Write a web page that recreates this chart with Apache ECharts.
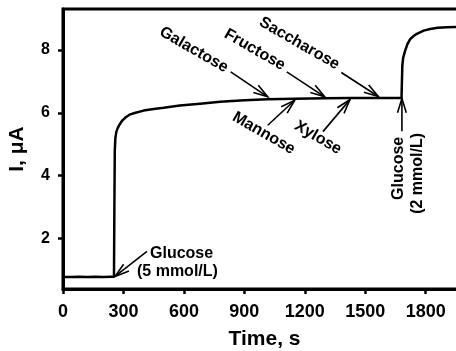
<!DOCTYPE html>
<html><head><meta charset="utf-8">
<script src="https://cdn.jsdelivr.net/npm/echarts@6/dist/echarts.min.js"></script>
<style>html,body{margin:0;padding:0;background:#fff}#c{width:456px;height:351px}</style>
</head><body><div id="c"></div>
<script>
// ---- data ----
const timeS = [0, 40, 80, 120, 160, 200, 240, 253, 255, 257, 260, 265, 272, 280, 295, 310, 330, 360, 400, 450, 500, 580, 680, 780, 900, 1016, 1150, 1300, 1424, 1565, 1680, 1682, 1684, 1688, 1698, 1710, 1723, 1740, 1756, 1790, 1822, 1860, 1905, 1952, 2000];
const currentUA = [0.76, 0.76, 0.77, 0.76, 0.77, 0.76, 0.77, 0.77, 3.0, 4.8, 5.2, 5.4, 5.52, 5.62, 5.76, 5.85, 5.94, 6.0, 6.07, 6.12, 6.16, 6.23, 6.29, 6.35, 6.40, 6.43, 6.45, 6.46, 6.47, 6.47, 6.47, 7.0, 7.5, 7.75, 7.98, 8.2, 8.35, 8.45, 8.52, 8.62, 8.67, 8.71, 8.73, 8.74, 8.75];
const xTickValues = [0, 300, 600, 900, 1200, 1500, 1800];
const yTickValues = [2, 4, 6, 8];
const annNames = ['Glucose\n(5 mmol/L)', 'Galactose', 'Fructose', 'Saccharose', 'Mannose', 'Xylose', 'Glucose\n(2 mmol/L)'];
const annTime = [258, 1016, 1299, 1565, 1150, 1424, 1682];
const annCurrent = [0.78, 6.51, 6.51, 6.52, 6.40, 6.42, 6.46];

// ---- annotation layout (pixel offsets from arrow tip) ----
const R = -Math.PI / 6, V = Math.PI / 2;
const annLayout = [
  {start: [32, -25], texts: [{dx: 35, dy: -23, align: 'left', rot: 0}, {dx: 22, dy: -5, align: 'left', rot: 0}]},
  {start: [-37, -25], texts: [{dx: -74, dy: -47, align: 'center', rot: R}]},
  {start: [-38, -25], texts: [{dx: -70, dy: -47, align: 'center', rot: R}]},
  {start: [-37, -24], texts: [{dx: -79, dy: -53, align: 'center', rot: R}]},
  {start: [-27, 25], texts: [{dx: -31, dy: 33, align: 'center', rot: R}]},
  {start: [-27, 32], texts: [{dx: -32, dy: 38, align: 'center', rot: R}]},
  {start: [0, 33], texts: [{dx: -3, dy: 70, align: 'center', rot: V}, {dx: 16, dy: 75, align: 'center', rot: V}]}
];

const FONT = '"Liberation Sans", Arial, sans-serif';
const chart = echarts.init(document.getElementById('c'), null, {renderer: 'canvas'});

chart.setOption({
  animation: false,
  backgroundColor: '#fff',
  grid: {left: 63, right: -10, top: 9, bottom: 62, show: true, borderColor: '#000', borderWidth: 3, containLabel: false, outerBoundsMode: 'none'},
  xAxis: {
    type: 'value', min: 0, max: 2000, interval: 300,
    name: 'Time, s', nameLocation: 'middle', nameGap: 40,
    nameTextStyle: {fontSize: 21, fontWeight: 'bold', color: '#000', fontFamily: FONT},
    axisLine: {onZero: false, lineStyle: {color: '#000', width: 3}},
    axisTick: {length: 5, lineStyle: {color: '#000', width: 2.5}, customValues: xTickValues},
    axisLabel: {fontSize: 18, fontWeight: 'bold', color: '#000', fontFamily: FONT, margin: 14, customValues: xTickValues, formatter: v => String(v)},
    splitLine: {show: false}
  },
  yAxis: {
    type: 'value', min: 0.38, max: 9.31,
    name: 'I, μA', nameLocation: 'middle', nameGap: 35,
    nameTextStyle: {fontSize: 21, fontWeight: 'bold', color: '#000', fontFamily: FONT},
    axisLine: {onZero: false, lineStyle: {color: '#000', width: 3}},
    axisTick: {length: 5, lineStyle: {color: '#000', width: 2.5}, customValues: yTickValues},
    axisLabel: {fontSize: 16, fontWeight: 'bold', color: '#000', fontFamily: FONT, margin: 13, customValues: yTickValues, formatter: v => String(v)},
    splitLine: {show: false}
  },
  series: [
    {
      type: 'line',
      data: timeS.map((t, i) => [t, currentUA[i]]),
      showSymbol: false, symbol: 'none',
      lineStyle: {color: '#000', width: 2.5},
      z: 3
    },
    {
      type: 'custom',
      data: annTime.map((t, i) => [t, annCurrent[i]]),
      clip: false, silent: true, z: 5,
      renderItem: function (params, api) {
        const i = params.dataIndex;
        const tip = api.coord([api.value(0), api.value(1)]);
        const L = annLayout[i];
        const sx = tip[0] + L.start[0], sy = tip[1] + L.start[1];
        const ang = Math.atan2(tip[1] - sy, tip[0] - sx);
        const hl = 15, ha = 17 * Math.PI / 180;
        const p1 = [tip[0] - hl * Math.cos(ang - ha), tip[1] - hl * Math.sin(ang - ha)];
        const p2 = [tip[0] - hl * Math.cos(ang + ha), tip[1] - hl * Math.sin(ang + ha)];
        const lines = annNames[i].split('\n');
        const children = [
          {type: 'line', shape: {x1: sx, y1: sy, x2: tip[0], y2: tip[1]}, style: {stroke: '#000', lineWidth: 1.6}},
          {type: 'polyline', shape: {points: [p1, tip, p2]}, style: {stroke: '#000', lineWidth: 1.6, fill: 'none'}}
        ];
        L.texts.forEach((tx, k) => {
          children.push({
            type: 'text', x: tip[0] + tx.dx, y: tip[1] + tx.dy, rotation: tx.rot,
            style: {text: lines[k], x: 0, y: 0, align: tx.align, verticalAlign: 'middle',
                    font: 'bold 16px ' + FONT, fill: '#000'}
          });
        });
        return {type: 'group', children: children};
      }
    }
  ]
});
</script>
</body></html>
